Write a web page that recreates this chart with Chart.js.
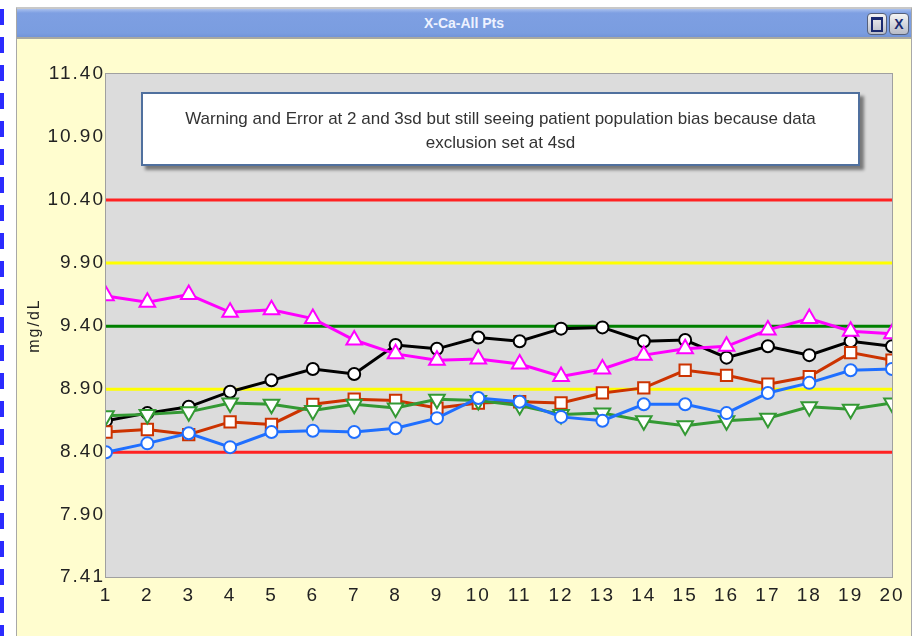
<!DOCTYPE html>
<html>
<head>
<meta charset="utf-8">
<title>X-Ca-All Pts</title>
<script src="https://cdn.jsdelivr.net/npm/chart.js@4.4.1/dist/chart.umd.min.js"></script>
<style>
body { margin:0; width:916px; height:636px; background:#fff; overflow:hidden; position:relative; font-family:"Liberation Sans", Arial, sans-serif; }
#dashes { position:absolute; left:0; top:0; width:4px; height:636px;
  background:repeating-linear-gradient(to bottom, transparent 0 9px, #2b2bff 9px 25px, transparent 25px 28px); }
#win { position:absolute; left:16px; top:7px; width:894px; height:640px; background:#fffdcf;
  border:1px solid #a8a8a8; border-top:2px solid #c8c8c8; }
#titlebar { position:absolute; left:0; top:0; right:0; height:28px; border-bottom:2px solid #a9a9a0;
  background:linear-gradient(#a9c0ee 0, #7e9fe2 4px, #7a9de0 24px, #7294d8 28px);
  color:#eef2ff; font-weight:bold; font-size:14px; text-align:center; line-height:28px; }
.btn { position:absolute; top:4px; width:18px; height:20px; border-radius:4px; border:1px solid #55607a;
  background:linear-gradient(#f4f4f4, #b8bcc8); color:#1a2a70; font-size:14px; line-height:20px; font-weight:bold; text-align:center; }
#note { position:absolute; left:141px; top:92px; width:715px; height:70px; background:#fff;
  border:2px solid #50709e; box-shadow:4px 4px 3px rgba(0,0,0,0.45); z-index:3;
  font-size:17px; color:#333; text-align:center; line-height:24px; }
#note div { padding-top:13px; }
canvas { position:absolute; left:0; top:0; z-index:2; }
</style>
</head>
<body>
<div id="dashes"></div>
<div id="win">
  <div id="titlebar">X-Ca-All Pts
    <div class="btn" style="left:850px;"><span style="display:inline-block;width:8px;height:10px;border:2px solid #1a2a70;border-top-width:3px;margin-top:3px;vertical-align:top;"></span></div>
    <div class="btn" style="left:872px;">X</div>
  </div>
</div>
<div id="note"><div>Warning and Error at 2 and 3sd but still seeing patient population bias because data<br>exclusion set at 4sd</div></div>
<canvas id="chart" width="916" height="636"></canvas>

<script>
// runs 1..20
const runs = ['1','2','3','4','5','6','7','8','9','10','11','12','13','14','15','16','17','18','19','20'];

// mg/dL values
const magentaVals = [9.64, 9.59, 9.65, 9.51, 9.53, 9.46, 9.29, 9.18, 9.13, 9.14, 9.10, 9.00, 9.06, 9.17, 9.22, 9.24, 9.37, 9.46, 9.36, 9.34];
const blackVals   = [8.65, 8.71, 8.76, 8.88, 8.97, 9.06, 9.02, 9.25, 9.22, 9.31, 9.28, 9.38, 9.39, 9.28, 9.29, 9.15, 9.24, 9.17, 9.28, 9.24];
const greenVals   = [8.69, 8.70, 8.72, 8.79, 8.78, 8.73, 8.78, 8.75, 8.82, 8.81, 8.77, 8.70, 8.71, 8.65, 8.61, 8.65, 8.67, 8.76, 8.74, 8.79];
const orangeVals  = [8.56, 8.58, 8.54, 8.64, 8.62, 8.78, 8.82, 8.81, 8.75, 8.79, 8.80, 8.79, 8.87, 8.91, 9.05, 9.01, 8.94, 9.00, 9.19, 9.13];
const blueVals    = [8.40, 8.47, 8.55, 8.44, 8.56, 8.57, 8.56, 8.59, 8.67, 8.83, 8.80, 8.68, 8.65, 8.78, 8.78, 8.71, 8.87, 8.95, 9.05, 9.06];

// control limits (error / warning / target)
const limitVals   = [10.40, 9.90, 9.40, 8.90, 8.40];
const limitColors = ['#ff2222', '#ffff00', '#008000', '#ffff00', '#ff2222'];

// y axis tick labels
const yTicks = [11.40, 10.90, 10.40, 9.90, 9.40, 8.90, 8.40, 7.90, 7.41];

function series(vals, color, shape, rot, size, order) {
  return {
    data: vals,
    borderColor: color,
    borderWidth: 3,
    pointStyle: shape,
    rotation: rot,
    pointRadius: size,
    pointBackgroundColor: '#fff',
    pointBorderColor: color,
    pointBorderWidth: 2,
    clip: 0,
    order: order
  };
}

let datasets = [
  series(blueVals, '#1f6fff', 'circle', 0, 6, 1),
  series(magentaVals, '#ff00ff', 'triangle', 0, 9, 2),
  series(greenVals, '#339933', 'triangle', 180, 9, 3),
  series(orangeVals, '#cc3300', 'rect', 0, 8, 4),
  series(blackVals, '#000000', 'circle', 0, 6, 5)
];

limitVals.forEach(function(v, i) {
  datasets.push({
    data: [{x: runs[0], y: v}, {x: runs[runs.length - 1], y: v}],
    borderColor: limitColors[i],
    borderWidth: 3,
    pointRadius: 0,
    order: 10
  });
});

// gray plot background + frame, wider tick lettering
const plotBg = {
  id: 'plotBg',
  beforeDraw(chart) {
    const a = chart.chartArea;
    const ctx = chart.ctx;
    ctx.letterSpacing = '2px';
    ctx.save();
    ctx.fillStyle = '#dcdcdc';
    ctx.fillRect(a.left, a.top, a.right - a.left, a.bottom - a.top);
    ctx.restore();
  },
  afterDraw(chart) {
    const a = chart.chartArea;
    const ctx = chart.ctx;
    ctx.save();
    ctx.strokeStyle = '#a0a0a0';
    ctx.lineWidth = 1;
    ctx.strokeRect(a.left - 0.5, a.top - 0.5, a.right - a.left + 1, a.bottom - a.top + 1);
    ctx.restore();
  }
};

new Chart(document.getElementById('chart'), {
  type: 'line',
  data: { labels: runs, datasets: datasets },
  plugins: [plotBg],
  options: {
    responsive: false,
    animation: false,
    layout: { padding: { left: 25, top: 74, right: 24, bottom: 29 } },
    plugins: { legend: { display: false }, tooltip: { enabled: false } },
    scales: {
      x: {
        offset: false,
        grid: { display: false, drawTicks: false },
        border: { display: false },
        ticks: { color: '#222', font: { family: 'Liberation Sans', size: 19 }, padding: 7, maxRotation: 0, autoSkip: false },
        afterFit(scale) { scale.height = 30; }
      },
      y: {
        min: 7.41,
        max: 11.40,
        grid: { display: false, drawTicks: false },
        border: { display: false },
        afterBuildTicks(scale) { scale.ticks = yTicks.map(v => ({ value: v })); },
        ticks: {
          color: '#222',
          font: { family: 'Liberation Sans', size: 19 },
          padding: 1,
          callback: v => Number(v).toFixed(2)
        },
        title: { display: true, text: 'mg/dL', color: '#222', font: { family: 'Liberation Sans', size: 16 }, padding: 0 },
        afterFit(scale) { scale.width = 81; }
      }
    }
  }
});
</script>
</body>
</html>
